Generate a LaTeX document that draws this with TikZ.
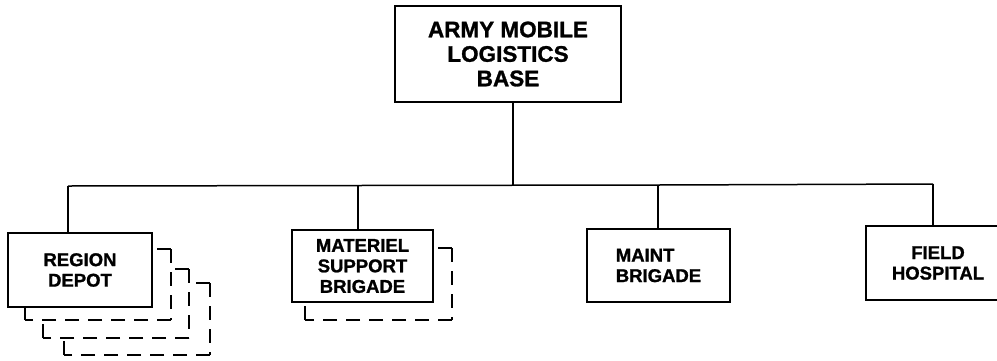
\documentclass[tikz,border=0pt]{standalone}
\usepackage{fontspec}
\setmainfont{Liberation Sans}[BoldFeatures={FakeBold=1.2}]
\begin{document}
\begin{tikzpicture}[x=1pt,y=-1pt,
  unitbox/.style={draw, line width=1.7pt, inner sep=0pt, font=\bfseries\fontsize{18.5}{20.5}\selectfont, align=center},
  topbox/.style={unitbox, font=\bfseries\fontsize{22.5}{24.5}\selectfont},
  conn/.style={line width=1.5pt},
  copybox/.style={line width=1.5pt, dash pattern=on 14pt off 9pt}]
\useasboundingbox (0,0) rectangle (997,360);
\clip (0,0) rectangle (997,360);
% boxes
\node[topbox, minimum width=226pt, minimum height=96pt] (top) at (508,54) {ARMY MOBILE\\LOGISTICS\\BASE};
\node[unitbox, minimum width=144pt, minimum height=74pt] (region) at (80,270) {REGION\\DEPOT};
\node[unitbox, minimum width=141pt, minimum height=72pt] (materiel) at (362.5,266) {MATERIEL\\SUPPORT\\BRIGADE};
\node[unitbox, minimum width=143pt, minimum height=73pt, align=left] (maint) at (658.5,265.5) {MAINT\\BRIGADE};
\node[unitbox, minimum width=144pt, minimum height=74pt] (field) at (938,263) {FIELD\\HOSPITAL};
% bus
\coordinate (busT) at (513,185);
\coordinate (busL) at (68,186);
\coordinate (busM) at (358,185.5);
\coordinate (busN) at (658,185);
\coordinate (busR) at (933,184);
\draw[conn] (busL) -- (busM) -- (busN) -- (busR);
\draw[conn] (busT |- top.south) -- (busT);
\draw[conn] (busL) -- (busL |- region.north);
\draw[conn] (busM) -- (busM |- materiel.north);
\draw[conn] (busN) -- (busN |- maint.north);
\draw[conn] (busR) -- (busR |- field.north);
% dashed copies behind REGION DEPOT
\coordinate (r1a) at (region.east |- 0,249);
\coordinate (r1b) at (171,320);
\coordinate (r1c) at (25,320);
\draw[copybox] (r1a -| r1b) -- (r1a);
\draw[copybox] (r1a -| r1b) -- (r1b);
\draw[copybox] (r1b) -- (r1c);
\draw[copybox] (r1c) -- (r1c |- region.south);
\coordinate (r2a) at (171,269);
\coordinate (r2b) at (189,338);
\coordinate (r2c) at (43,338);
\draw[copybox] (r2a -| r2b) -- (r2a);
\draw[copybox] (r2a -| r2b) -- (r2b);
\draw[copybox] (r2b) -- (r2c);
\draw[copybox] (r2c) -- (r2c |- r1c);
\coordinate (r3a) at (189,283);
\coordinate (r3b) at (210,355);
\coordinate (r3c) at (64,355);
\draw[copybox] (r3a -| r3b) -- (r3a);
\draw[copybox] (r3a -| r3b) -- (r3b);
\draw[copybox] (r3b) -- (r3c);
\draw[copybox] (r3c) -- (r3c |- r2c);
% dashed copy behind MATERIEL SUPPORT BRIGADE
\coordinate (m1a) at (materiel.east |- 0,248);
\coordinate (m1b) at (452,320);
\coordinate (m1c) at (305,320);
\draw[copybox] (m1a -| m1b) -- (m1a);
\draw[copybox] (m1a -| m1b) -- (m1b);
\draw[copybox] (m1b) -- (m1c);
\draw[copybox] (m1c) -- (m1c |- materiel.south);
\end{tikzpicture}
\end{document}
